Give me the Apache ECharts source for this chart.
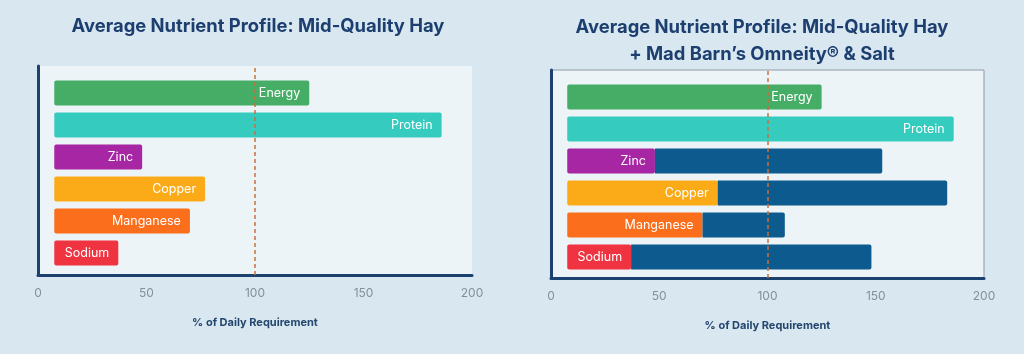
<!DOCTYPE html>
<html>
<head>
<meta charset="utf-8">
<title>Average Nutrient Profile</title>
<script src="https://cdn.jsdelivr.net/npm/echarts@6/dist/echarts.min.js"></script>
<style>
  html, body { margin: 0; padding: 0; background: #d9e8f0; }
  #chart { width: 1024px; height: 354px; }
</style>
</head>
<body>
<div id="chart"></div>
<script>
// 数据
var categories = ["Energy", "Protein", "Zinc", "Copper", "Manganese", "Sodium"];
var barStart = [7.5, 7.5, 7.5, 7.5, 7.5, 7.5]; // bars start a bit right of 0
var hayValues = [125, 186, 48, 77, 70, 37];
var withOmneity = [null, null, 153, 183, 108, 148];
var xTicks = [0, 50, 100, 150, 200];
var requirementLine = 100;

var barColors = ["#46ad66", "#36cbbf", "#a626a4", "#fbab18", "#fa6e1c", "#ef3340"];
var omneityColor = "#0d5a8e";
var navy = "#1c416f";
var font = "Inter";

var titleLeft = "Average Nutrient Profile: Mid-Quality Hay";
var titleRight = "Average Nutrient Profile: Mid-Quality Hay\n+ Mad Barn\u2019s Omneity\u00ae & Salt";

// 网格：frame 画背景/轴线，bars 画条形
var panels = [
  { left: 38, width: 434, frameTop: 66, frameHeight: 209, barTop: 77, border: 0 },
  { left: 551, width: 433, frameTop: 70, frameHeight: 208, barTop: 81, border: 1 },
];

var grids = [];
var xAxes = [];
var yAxes = [];
var series = [];

panels.forEach(function (p, i) {
  var frameIdx = i * 2;
  var barIdx = i * 2 + 1;
  grids.push({
    left: p.left, width: p.width, top: p.frameTop, height: p.frameHeight,
    show: true, backgroundColor: "#edf4f8",
    borderColor: "#8f9aa6", borderWidth: p.border,
  });
  grids.push({ left: p.left, width: p.width, top: p.barTop, height: 192 });

  xAxes.push({
    gridIndex: frameIdx, type: "value",
    min: xTicks[0], max: xTicks[xTicks.length - 1],
    interval: xTicks[1] - xTicks[0],
    axisLine: { show: true, lineStyle: { color: navy, width: 3 } },
    axisTick: { show: false },
    splitLine: { show: false },
    axisLabel: { color: "#84909b", fontSize: 12, margin: 12, fontFamily: font },
    name: "% of Daily Requirement",
    nameLocation: "middle",
    nameGap: 42,
    nameTextStyle: { color: "#24466f", fontSize: 11, fontWeight: "bold", fontFamily: font },
  });
  xAxes.push({
    gridIndex: barIdx, type: "value", show: false,
    min: xTicks[0], max: xTicks[xTicks.length - 1],
  });
  yAxes.push({
    gridIndex: frameIdx, type: "value", min: 0, max: 1,
    axisLine: { show: true, lineStyle: { color: navy, width: 3 } },
    axisTick: { show: false }, axisLabel: { show: false }, splitLine: { show: false },
  });
  yAxes.push({
    gridIndex: barIdx, type: "category", data: categories, inverse: true, show: false,
  });

  // 100% 虚线
  series.push({
    type: "line", xAxisIndex: frameIdx, yAxisIndex: frameIdx, data: [], z: 5,
    markLine: {
      silent: true, symbol: "none", label: { show: false },
      lineStyle: { color: "#c8703d", type: [4, 3], width: 1.5 },
      data: [{ xAxis: requirementLine }],
    },
  });

  var stackName = "s" + i;
  series.push({
    type: "bar", xAxisIndex: barIdx, yAxisIndex: barIdx, stack: stackName,
    barWidth: 25, silent: true,
    itemStyle: { color: "transparent" },
    data: barStart,
  });
  series.push({
    type: "bar", xAxisIndex: barIdx, yAxisIndex: barIdx, stack: stackName,
    barWidth: 25,
    data: hayValues.map(function (v, k) {
      return {
        value: v - barStart[k],
        itemStyle: { color: barColors[k], borderRadius: 2 },
      };
    }),
    label: {
      show: true, position: "insideRight", distance: 9,
      color: "#ffffff", fontSize: 12.5, fontFamily: font,
      formatter: function (params) { return params.name; },
    },
  });
  if (i === 1) {
    series.push({
      type: "bar", xAxisIndex: barIdx, yAxisIndex: barIdx, stack: stackName,
      barWidth: 25,
      itemStyle: { color: omneityColor, borderRadius: [0, 2, 2, 0] },
      data: withOmneity.map(function (t, k) {
        return t == null ? "-" : t - hayValues[k];
      }),
    });
  }
});

var myChart = echarts.init(document.getElementById("chart"));
myChart.setOption({
  backgroundColor: "#d9e8f0",
  animation: false,
  title: [
    {
      text: titleLeft, left: 258, top: 13, textAlign: "center", padding: 0,
      textStyle: { color: "#1d3f70", fontSize: 18.4, fontWeight: "bold", fontFamily: font, lineHeight: 27 },
    },
    {
      text: titleRight, left: 762, top: 14, textAlign: "center", padding: 0,
      textStyle: { color: "#1d3f70", fontSize: 18.4, fontWeight: "bold", fontFamily: font, lineHeight: 27 },
    },
  ],
  grid: grids,
  xAxis: xAxes,
  yAxis: yAxes,
  series: series,
});
</script>
</body>
</html>
